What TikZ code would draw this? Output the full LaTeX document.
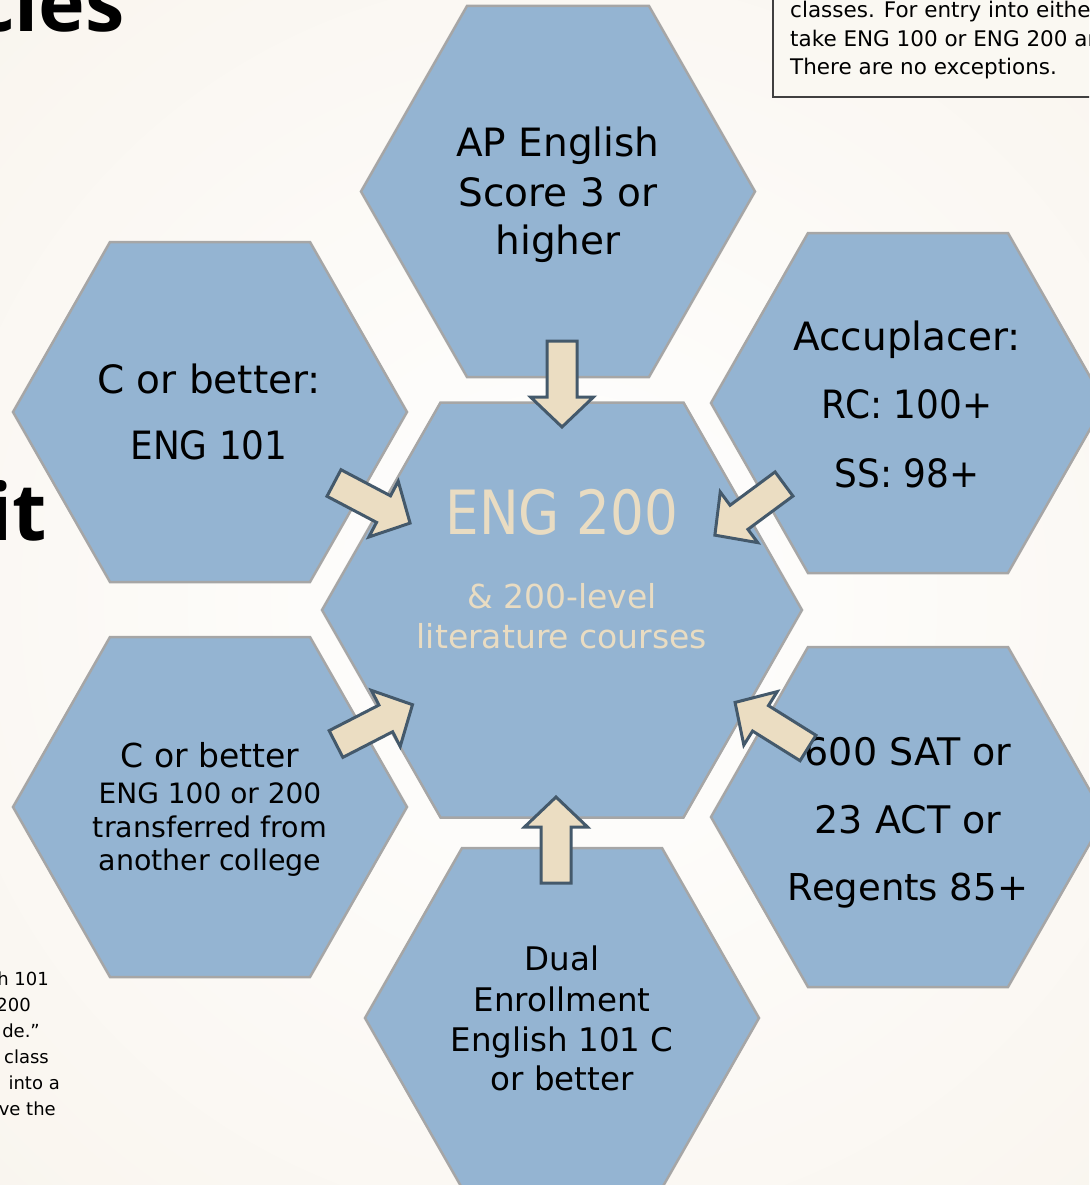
\documentclass[tikz,border=0pt]{standalone}
\usepackage{fontspec}
\setmainfont{DejaVu Sans}
\newfontfamily\titlefont{Open Sans}
\newfontfamily\narrowfont[FakeStretch=0.87]{DejaVu Sans}
\newfontfamily\semifont[FakeStretch=0.92]{DejaVu Sans}
\definecolor{bgc}{HTML}{F6F0E6}
\definecolor{hexblue}{HTML}{94B4D2}
\definecolor{hexgrey}{HTML}{A6A6A6}
\definecolor{arrowfill}{HTML}{EBDDC2}
\definecolor{arrowline}{HTML}{44596B}
\definecolor{beigetext}{HTML}{E9DCC2}
\definecolor{boxline}{HTML}{404040}
\newcommand\hexshape[5]{\path[hexsty] ({#1-#4},{#2-#5}) -- ({#1+#4},{#2-#5}) -- ({#1+#3},#2) -- ({#1+#4},{#2+#5}) -- ({#1-#4},{#2+#5}) -- ({#1-#3},#2) -- cycle;}
\tikzset{
  hexsty/.style={fill=hexblue, draw=hexgrey, line width=2.5pt, line join=miter},
  arrowsty/.style={fill=arrowfill, draw=arrowline, line width=3pt, line join=miter},
  lbl/.style={anchor=base, inner sep=0pt, text=black},
  big/.style={font=\fontsize{39}{47}\selectfont},
  small/.style={lbl, anchor=base east, font=\fontsize{18}{26}\selectfont},
  blockarrow/.pic={\path[arrowsty] (0,-15) -- (56,-15) -- (56,-31.5) -- (86,0) -- (56,31.5) -- (56,15) -- (0,15) -- cycle;}
}
\begin{document}
\begin{tikzpicture}[x=1pt,y=-1pt]
\useasboundingbox (0,0) rectangle (1089,1185);
\begin{scope}
\clip (0,0) rectangle (1089,1185);
\fill[bgc] (0,0) rectangle (1089,1185);
\shade[inner color=white, outer color=bgc] (562,600) circle[radius=1250];

% top-right note box
\path[fill=bgc!50!white, draw=boxline, line width=1.5pt] (773,-10) rectangle (1100,97);
\node[lbl, anchor=base west, font=\fontsize{21.5}{28}\selectfont] (n1) at (790,18) {classes. For entry into eithe};
\node[lbl, anchor=base west, font=\fontsize{21.5}{28}\selectfont] (n2) at (790,46.5) {take ENG 100 or ENG 200 ar};
\node[lbl, anchor=base west, font=\fontsize{21.5}{28}\selectfont] (n3) at (790,75) {There are no exceptions.};

% partial titles
\node[lbl, anchor=base east, font=\titlefont\bfseries\fontsize{79}{90}\selectfont] (tcies) at (125,32) {cies};
\node[lbl, anchor=base east, font=\titlefont\bfseries\fontsize{79}{90}\selectfont] (tit) at (47,540) {it};

% bottom-left text fragments
\node[small] (s1) at (49,985) {h 101};
\node[small] (s2) at (31,1011) {200};
\node[small] (s3) at (40,1037) {de.”};
\node[small] (s4) at (49,1063) {class};
\node[small] (s5) at (60,1089) {into a};
\node[small] (s6) at (56,1115) {ve the};
\end{scope}

% hexagons
\hexshape{558}{191.5}{197}{91}{185.5}
\hexshape{210}{412}{197}{100}{170}
\hexshape{908}{403}{197}{100}{170}
\hexshape{210}{807}{197}{100}{170}
\hexshape{908}{817}{197}{100}{170}
\hexshape{562}{1018}{197}{100}{170}
\hexshape{562}{610}{240}{121.5}{207.5}

% top hexagon text
\node[lbl, big] (ta) at (558,157) {AP English};
\node[lbl, big] (tb) at (558,206) {Score 3 or};
\node[lbl, big] (tc) at (558,254) {higher};
% left upper
\node[lbl, big] (la) at (209,393) {C or better:};
\node[lbl, font=\semifont\fontsize{39}{47}\selectfont] (lb) at (209,459) {ENG 101};
% right upper
\node[lbl, big] (ra) at (907,350) {Accuplacer:};
\node[lbl, font=\semifont\fontsize{39}{47}\selectfont] (rb) at (907,418) {RC: 100+};
\node[lbl, font=\semifont\fontsize{39}{47}\selectfont] (rc) at (907,487) {SS: 98+};
% centre
\node[lbl, text=beigetext, font=\narrowfont\fontsize{61}{70}\selectfont] (ca) at (562,534) {ENG 200};
\node[lbl, text=beigetext, font=\fontsize{33}{40}\selectfont] (cb) at (562,608) {\& 200-level};
\node[lbl, text=beigetext, font=\fontsize{33}{40}\selectfont] (cc) at (562,648) {literature courses};
% left lower
\node[lbl, font=\fontsize{33}{40}\selectfont] (lla) at (210,767) {C or better};
\node[lbl, font=\fontsize{28}{34}\selectfont] (llb) at (210,803) {ENG 100 or 200};
\node[lbl, font=\fontsize{28.5}{34}\selectfont] (llc) at (210,837) {transferred from};
\node[lbl, font=\fontsize{28.5}{34}\selectfont] (lld) at (210,870) {another college};
% right lower
\node[lbl, font=\fontsize{38}{46}\selectfont] (rla) at (908,765) {600 SAT or};
\node[lbl, font=\fontsize{38}{46}\selectfont] (rlb) at (908,833) {23 ACT or};
\node[lbl, font=\fontsize{37}{46}\selectfont] (rlc) at (908,900) {Regents 85+};
% bottom
\node[lbl, font=\fontsize{32.5}{40}\selectfont] (ba) at (562,970) {Dual};
\node[lbl, font=\fontsize{32.5}{40}\selectfont] (bb) at (562,1011) {Enrollment};
\node[lbl, font=\fontsize{32.5}{40}\selectfont] (bc) at (562,1051) {English 101 C};
\node[lbl, font=\fontsize{32.5}{40}\selectfont] (bd) at (562,1090) {or better};

% block arrows
\coordinate (aTop) at (562,341);
\coordinate (aBot) at (556,883);
\coordinate (aLU) at (334,483);
\coordinate (aRU) at (784,484);
\coordinate (aLL) at (336,744);
\coordinate (aRL) at (808,748);
\pic[rotate=-90] at (aTop) {blockarrow};
\pic[rotate=90] at (aBot) {blockarrow};
\pic[rotate=-27.8] at (aLU) {blockarrow};
\pic[rotate=-143.5] at (aRU) {blockarrow};
\pic[rotate=27.2] at (aLL) {blockarrow};
\pic[rotate=148] at (aRL) {blockarrow};
\end{tikzpicture}
\end{document}
